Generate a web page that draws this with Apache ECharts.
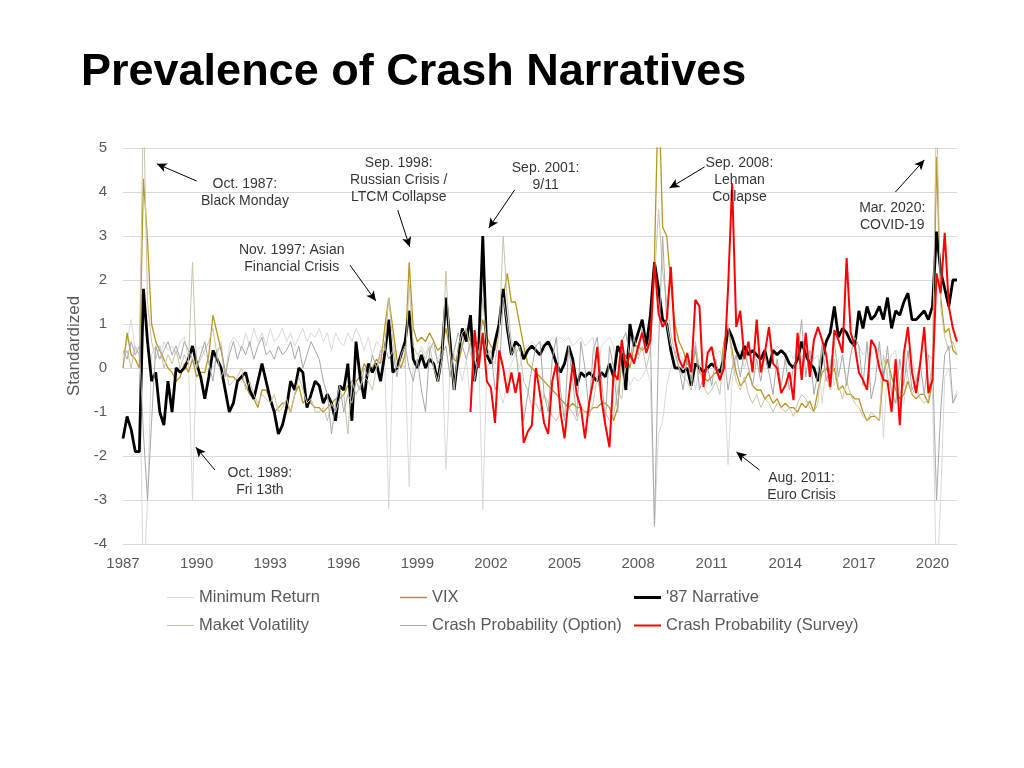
<!DOCTYPE html>
<html><head><meta charset="utf-8">
<script src="https://cdn.jsdelivr.net/npm/echarts@6/dist/echarts.min.js"></script>
<style>html,body{margin:0;padding:0;background:#fff}#c{width:1024px;height:768px}</style>
</head><body><div id="c"></div>
<script>
// Bimonthly samples (Jan, Mar, May, Jul, Sep, Nov) starting Jan 1987; last value = Jan 2021
const START_YEAR = 1987;
const STEP_MONTHS = 2;
const RED_START_YEAR = 2001;
const xTickYears = [1987,1990,1993,1996,1999,2002,2005,2008,2011,2014,2017,2020];

const minimumReturn = [
 0.3,0.6,1.1,0.4,0.3,-5.0,  -3.0,0.3,0.5,0.2,0.6,0.4,  0.5,0.3,0.6,0.7,0.2,-3.0,  0.4,0.5,0.3,0.2,0.0,0.3,
 0.6,-0.2,0.5,0.7,0.6,0.4,  0.8,0.5,0.9,0.6,0.8,0.5,  0.9,0.6,0.7,0.9,0.6,0.8,  0.5,0.7,0.9,0.6,0.8,0.7,
 0.9,0.6,0.8,0.4,0.8,0.6,  0.5,0.8,0.6,0.9,0.7,0.4,  0.7,0.3,0.6,0.5,0.2,-3.2,  0.0,0.4,0.3,0.1,-2.7,0.1,
 0.2,0.5,0.3,0.6,0.4,0.2,  0.4,-2.3,0.0,0.3,0.1,-0.3,  0.2,-0.8,0.4,0.3,-3.2,0.0,  0.2,0.0,-0.5,-0.8,-0.3,0.1,
 0.3,0.0,0.4,0.5,0.6,0.5,  0.6,0.4,0.5,0.7,0.6,0.7,  0.6,0.7,0.5,0.6,0.7,0.5,  0.6,0.7,-0.2,0.5,0.6,0.7,
 0.5,-0.6,0.4,0.0,-0.4,-0.2,  -0.3,-0.2,0.0,-0.3,-3.6,-1.5,  -1.2,-0.4,0.0,0.2,0.3,0.2,  0.3,0.4,-0.5,0.0,0.3,0.4,
 0.5,0.3,0.4,0.0,-2.2,-0.3,  0.2,0.4,0.0,0.3,0.4,0.2,  0.4,0.3,0.2,0.4,0.5,0.4,  0.3,0.4,0.2,0.5,0.1,0.3,
 0.4,0.2,0.3,-0.8,0.0,0.2,  -0.4,0.2,0.3,-0.3,0.3,0.4,  0.5,0.3,0.4,0.5,0.4,0.5,  -1.6,0.0,0.3,0.4,-0.5,-0.8,
 0.0,0.3,-0.3,0.2,0.4,0.3,  -0.6,-5.0,-3.0,-0.2,0.0,-0.8,-0.5
];
const vix = [
 0.0,0.8,0.3,0.2,0.0,4.3,  2.9,1.0,0.6,0.4,0.2,0.0,  -0.1,-0.3,-0.2,0.1,-0.1,0.2,  -0.2,-0.1,-0.1,0.3,1.2,0.8,
 0.4,-0.1,-0.2,-0.2,-0.3,-0.2,  -0.4,-0.6,-0.7,-0.9,-0.5,-0.5,  -0.7,-1.0,-0.9,-0.8,-0.8,-1.0,  -0.6,-0.4,-0.8,-0.7,-0.8,-0.9,
 -0.9,-1.0,-0.9,-0.8,-0.7,-0.7,  -0.6,-0.4,-0.3,-0.3,-0.2,0.1,  -0.1,0.0,0.2,0.1,0.9,1.6,  0.9,0.2,0.0,0.3,2.4,0.9,
 0.6,0.7,0.6,0.8,0.6,0.4,  0.5,0.9,0.4,0.2,0.1,0.5,  0.9,0.6,0.5,0.6,1.1,0.7,  0.5,0.4,1.0,1.6,2.15,1.5,
 1.5,1.0,0.5,0.1,0.0,-0.1,  -0.2,-0.3,-0.4,-0.5,-0.6,-0.7,  -0.8,-0.9,-0.8,-0.9,-0.9,-1.0,  -1.0,-0.9,-0.9,-0.8,-0.8,-0.9,
 -1.2,-0.9,0.2,0.3,0.0,0.5,  0.5,0.4,0.5,0.8,2.5,6.5,  3.2,3.0,1.9,1.0,0.6,0.4,  0.1,0.0,0.4,-0.1,-0.2,-0.3,
 -0.2,-0.1,-0.2,0.6,0.9,0.4,  -0.1,-0.4,-0.3,-0.1,-0.4,-0.5,  -0.5,-0.7,-0.6,-0.8,-0.7,-0.9,  -0.8,-0.9,-0.9,-1.0,-0.8,-0.9,
 -0.75,-1.0,-0.5,-0.1,0.0,-0.2,  0.0,-0.5,-0.4,-0.6,-0.6,-0.7,  -0.7,-1.0,-1.2,-1.1,-1.1,-1.2,  -0.1,0.2,-0.2,-0.5,-0.7,-0.6,
 -0.3,-0.6,-0.7,-0.6,-0.6,-0.8,  -0.3,4.8,1.6,0.8,0.9,0.4,0.3
];
const narrative87 = [
 -1.6,-1.1,-1.4,-1.9,-1.9,1.8,  0.6,-0.3,-0.1,-1.0,-1.3,-0.3,  -1.0,0.0,-0.1,0.0,0.2,0.5,  0.1,-0.2,-0.7,-0.2,0.4,0.2,
 0.0,-0.5,-1.0,-0.8,-0.3,-0.2,  -0.1,-0.5,-0.7,-0.3,0.1,-0.3,  -0.7,-1.0,-1.5,-1.3,-0.9,-0.3,  -0.5,0.0,-0.1,-0.9,-0.6,-0.3,
 -0.4,-0.8,-0.6,-0.8,-1.2,-0.4,  -0.5,0.1,-1.2,0.6,-0.2,-0.7,  0.1,-0.1,0.1,-0.3,0.3,1.1,  -0.1,0.0,0.3,0.6,1.3,0.2,
 0.0,0.3,0.0,0.2,0.1,-0.3,  0.3,1.6,0.6,-0.5,0.3,0.9,  0.6,1.2,-0.3,0.4,3.0,0.3,  0.1,0.6,1.0,1.8,0.9,0.3,
 0.6,0.5,0.2,0.4,0.5,0.4,  0.3,0.5,0.6,0.4,0.1,-0.1,  0.1,0.5,0.2,-0.4,-0.1,-0.2,  -0.1,-0.2,-0.3,-0.1,-0.2,0.1,
 -0.2,0.5,0.3,-0.5,1.0,0.5,  0.8,1.1,0.5,1.2,2.4,1.8,  1.1,1.0,0.4,0.0,0.0,-0.1,  0.0,-0.4,0.1,0.0,-0.1,0.0,
 0.1,0.0,-0.1,0.2,0.9,0.7,  0.4,0.2,0.5,0.3,0.4,0.3,  0.2,0.4,0.0,0.4,0.3,0.4,  0.3,0.1,0.0,0.2,0.6,0.3,
 0.1,0.0,-0.3,0.2,0.6,0.8,  1.4,0.7,0.9,0.8,0.6,0.5,  1.3,0.9,1.4,1.1,1.2,1.4,  1.1,1.6,0.9,1.3,1.2,1.5,
 1.7,1.1,1.1,1.2,1.3,1.1,  1.4,3.1,2.2,1.8,1.4,2.0,2.0
];
const marketVolatility = [
 0.2,0.4,0.0,0.5,0.3,6.0,  1.5,0.6,0.2,0.5,0.0,0.3,  0.1,0.4,0.0,0.3,0.1,2.4,  0.0,0.2,0.4,0.6,0.9,0.3,
 -0.2,0.0,-0.4,-0.3,-0.2,0.0,  -0.5,-0.3,-0.6,-0.8,-0.6,-0.7,  -0.8,-0.6,-1.0,-0.9,-0.7,-1.0,  -0.6,-0.2,-0.5,-0.8,-0.7,-1.0,
 -1.0,-0.9,-1.2,-0.8,-1.0,-0.7,  -0.6,-1.5,-0.3,-0.6,-0.4,-0.2,  -0.3,-0.5,0.0,0.3,0.4,1.6,  0.6,0.0,0.1,0.0,1.9,0.5,
 0.3,0.4,0.2,0.5,0.0,-0.3,  0.2,2.2,0.4,-0.5,0.5,0.8,  0.9,0.3,0.2,0.0,1.6,0.5,  0.2,0.1,0.8,3.0,1.5,0.6,
 0.3,0.5,-0.3,-0.5,-0.9,-0.8,  -1.0,-0.6,-0.8,-1.1,-1.2,-1.0,  -1.1,-0.9,-1.0,-1.2,-0.9,-1.0,  -1.1,-0.8,-0.2,-0.7,-1.0,-1.2,
 -1.1,-0.5,-0.7,0.2,0.1,0.3,  0.2,0.5,0.0,0.4,2.0,3.6,  2.2,1.5,0.8,0.3,0.0,-0.2,  -0.3,-0.5,0.6,0.0,-0.4,-0.6,
 -0.5,-0.3,-0.6,0.5,1.0,0.2,  -0.3,-0.5,-0.2,-0.6,-0.8,-0.6,  -0.9,-0.7,-0.8,-1.0,-0.8,-0.9,  -1.0,-0.9,-1.1,-0.8,-0.6,-0.7,
 -0.9,-1.0,-0.8,0.6,-0.2,-0.5,  0.2,-0.4,-0.7,-0.3,-0.6,-0.8,  -0.9,-1.1,-1.2,-1.0,-1.1,-1.2,  0.3,-0.2,-0.5,-0.8,-0.3,0.2,
 -0.2,-0.6,-0.4,-0.7,-0.8,-0.7,  0.2,6.0,1.4,0.7,0.4,0.6,0.3
];
const crashProbOption = [
 0.4,0.2,0.6,0.3,0.5,-1.5,  -3.0,-1.2,0.5,0.2,0.4,0.6,  0.3,0.5,0.2,0.6,0.4,0.2,  0.0,0.3,0.6,0.1,-0.3,0.4,
 0.5,-0.2,0.3,0.6,0.2,0.5,  0.3,0.6,0.2,0.5,0.7,0.3,  0.4,0.2,0.5,0.3,0.4,0.6,  0.2,0.5,0.0,0.3,0.6,0.4,
 0.2,-0.3,-0.6,-1.5,-0.8,-0.4,  -1.0,-0.6,-0.8,-0.3,-0.5,0.0,  -0.2,0.3,0.0,0.4,0.5,0.2,  0.4,-0.2,0.3,0.5,0.0,-0.3,
 0.2,-0.5,-1.0,0.4,0.6,0.1,  0.3,0.5,-0.2,0.4,0.8,0.5,  0.2,0.6,-0.3,0.4,0.8,0.3,  0.4,-0.5,-0.2,1.6,1.0,0.3,
 0.5,-0.4,-1.2,-0.6,0.0,0.5,  0.6,-0.6,-1.0,0.2,0.7,-0.5,  -1.2,0.5,-0.3,-1.1,0.6,0.0,  -1.0,0.4,0.7,-0.2,-1.2,0.5,
 0.0,-1.0,0.6,0.8,0.2,0.7,  0.3,0.9,0.4,0.7,-3.6,0.5,  3.0,1.0,0.5,0.4,0.0,-0.5,  0.2,-0.3,0.5,-0.5,-0.2,0.0,
 -0.4,0.2,-0.3,0.3,-0.5,0.0,  0.3,-0.2,0.4,0.0,-0.4,0.2,  -0.3,0.3,-0.1,-0.6,0.2,-0.4,  0.2,-0.5,0.0,0.3,1.1,-0.2,
 0.4,-0.6,-0.1,0.5,-0.3,0.0,  0.6,-0.2,0.3,-0.4,0.3,0.7,  0.5,-0.4,0.6,-0.7,-0.3,0.6,  -0.3,0.5,-0.6,-0.8,0.2,-0.4,
 0.4,-0.5,-0.3,0.1,-0.6,0.3,  0.2,-3.0,-1.0,0.3,0.5,-0.8,-0.6
];
// starts Jan 2001 (null = no data yet)
const crashProbSurvey = [
 null,-1.0,0.86,0.0,0.8,-0.3,  -0.45,-1.25,0.4,0.0,-0.57,-0.1,  -0.57,-0.1,-1.7,-1.45,-1.3,0.0,  -0.6,-1.25,-1.5,-0.3,0.1,-1.0,
 -1.6,-0.7,0.1,-0.6,-0.9,-1.6,  -0.8,-0.3,0.48,-0.7,-1.3,-1.8,  -0.1,-0.27,0.64,0.0,0.34,0.1,  0.48,0.8,0.34,0.64,2.4,1.24,
 0.93,1.1,2.3,0.64,0.2,0.0,  0.34,-0.1,1.55,1.4,-0.43,0.34,  0.48,0.0,-0.27,0.0,1.8,4.2,  0.93,1.3,0.2,0.6,-0.1,1.1,
 -0.1,0.34,0.93,0.1,0.0,-0.57,  -0.4,-0.1,-0.73,0.8,-0.27,0.8,  -0.2,0.64,0.93,0.64,0.3,-0.43,  0.86,0.64,0.34,2.5,0.8,0.5,
 -0.1,-0.27,-0.5,0.64,0.48,0.0,  -0.27,-0.3,-1.0,0.2,-1.3,0.34,  0.93,-0.1,-0.57,0.1,0.93,-0.57,  -0.27,2.15,1.7,3.07,1.4,0.9,0.6
];

const annotations = [
  {text:'Oct. 1987:\nBlack Monday', at:[1991.97, 3.98], from:[1990.0, 4.25], to:[1988.38, 4.64]},
  {text:'Sep. 1998:\nRussian Crisis /\nLTCM Collapse', at:[1998.24, 4.27], from:[1998.20, 3.59], to:[1998.69, 2.75]},
  {text:'Sep. 2001:\n9/11', at:[2004.23, 4.35], from:[2002.97, 4.05], to:[2001.91, 3.18]},
  {text:'Sep. 2008:\nLehman\nCollapse', at:[2012.13, 4.27], from:[2010.71, 4.57], to:[2009.28, 4.09]},
  {text:'Mar. 2020:\nCOVID-19', at:[2018.36, 3.44], from:[2018.49, 4.0], to:[2019.67, 4.73]},
  {text:'Nov. 1997: Asian\nFinancial Crisis', at:[1993.88, 2.48], from:[1996.25, 2.34], to:[1997.31, 1.52]},
  {text:'Oct. 1989:\nFri 13th', at:[1992.58, -2.59], from:[1990.75, -2.32], to:[1989.97, -1.80]},
  {text:'Aug. 2011:\nEuro Crisis', at:[2014.66, -2.70], from:[2012.95, -2.32], to:[2012.01, -1.91]}
];

const FONT = '"Liberation Sans", Arial, Helvetica, sans-serif';
function toPoints(arr, startYear) {
  const pts = [];
  arr.forEach((v, i) => { if (v !== null) pts.push([startYear + i * STEP_MONTHS / 12, v]); });
  return pts;
}
function lineSeries(name, arr, color, width, startYear) {
  return {
    name, type: 'line', data: toPoints(arr, startYear || START_YEAR), color,
    showSymbol: false, symbol: 'none', clip: true, silent: true,
    lineStyle: { color, width }, itemStyle: { color }
  };
}
const legendDefs = [
  { name: 'Minimum Return', left: 162, top: 584, h: 1 },
  { name: 'VIX', left: 395, top: 584, h: 1.5 },
  { name: "'87 Narrative", left: 629, top: 584, h: 3 },
  { name: 'Maket Volatility', left: 162, top: 612, h: 1 },
  { name: 'Crash Probability (Option)', left: 395, top: 612, h: 1 },
  { name: 'Crash Probability (Survey)', left: 629, top: 612, h: 2 }
];

const chart = echarts.init(document.getElementById('c'), null, { renderer: 'canvas' });
chart.setOption({
  animation: false,
  backgroundColor: '#ffffff',
  textStyle: { fontFamily: FONT },
  title: {
    text: 'Prevalence of Crash Narratives', left: 76, top: 45,
    textStyle: { fontFamily: FONT, fontSize: 45, fontWeight: 'bold', color: '#000000' }
  },
  legend: legendDefs.map(d => ({
    data: [d.name], left: d.left, top: d.top, icon: 'rect', itemWidth: 27, itemHeight: d.h,
    selectedMode: false, textStyle: { fontFamily: FONT, fontSize: 16.5, color: '#595959' }
  })),
  grid: { left: 123, right: 67, top: 148, bottom: 224, containLabel: false },
  xAxis: {
    type: 'value', min: 1987, max: 2021, interval: 3,
    axisLine: { show: false }, axisTick: { show: false }, splitLine: { show: false },
    axisLabel: { color: '#595959', fontSize: 15, fontFamily: FONT, margin: 12, showMaxLabel: false,
      formatter: v => (xTickYears.indexOf(v) >= 0 ? String(v) : '') }
  },
  yAxis: {
    type: 'value', min: -4, max: 5, interval: 1,
    name: 'Standardized', nameLocation: 'middle', nameGap: 31, nameRotate: 90,
    nameTextStyle: { color: '#595959', fontSize: 17, fontFamily: FONT },
    axisLine: { show: false }, axisTick: { show: false },
    splitLine: { lineStyle: { color: '#D9D9D9', width: 1 } },
    axisLabel: { color: '#595959', fontSize: 15, fontFamily: FONT, margin: 16 }
  },
  series: [
    lineSeries('Minimum Return', minimumReturn, '#D9D9D9', 1),
    lineSeries('VIX', vix, '#B8961E', 1.3),
    lineSeries("'87 Narrative", narrative87, '#000000', 2.8),
    lineSeries('Maket Volatility', marketVolatility, '#C9C3A8', 1),
    lineSeries('Crash Probability (Option)', crashProbOption, '#A8A8A8', 1),
    lineSeries('Crash Probability (Survey)', crashProbSurvey, '#FF0000', 2, RED_START_YEAR),
    {
      name: 'annotations', type: 'scatter', silent: true, z: 10,
      data: annotations.map(a => a.at), symbolSize: 1, itemStyle: { color: 'rgba(0,0,0,0)' },
      label: { show: true, position: 'inside', align: 'center', verticalAlign: 'middle',
        formatter: p => annotations[p.dataIndex].text,
        color: '#000000', fontSize: 14, lineHeight: 17, fontFamily: FONT },
      markLine: {
        silent: true, symbol: ['none', 'arrow'], symbolSize: [7, 10], animation: false,
        lineStyle: { color: '#000000', width: 1, type: 'solid' },
        label: { show: false },
        data: annotations.map(a => [{ coord: a.from }, { coord: a.to }])
      }
    }
  ]
});
</script>
</body></html>
